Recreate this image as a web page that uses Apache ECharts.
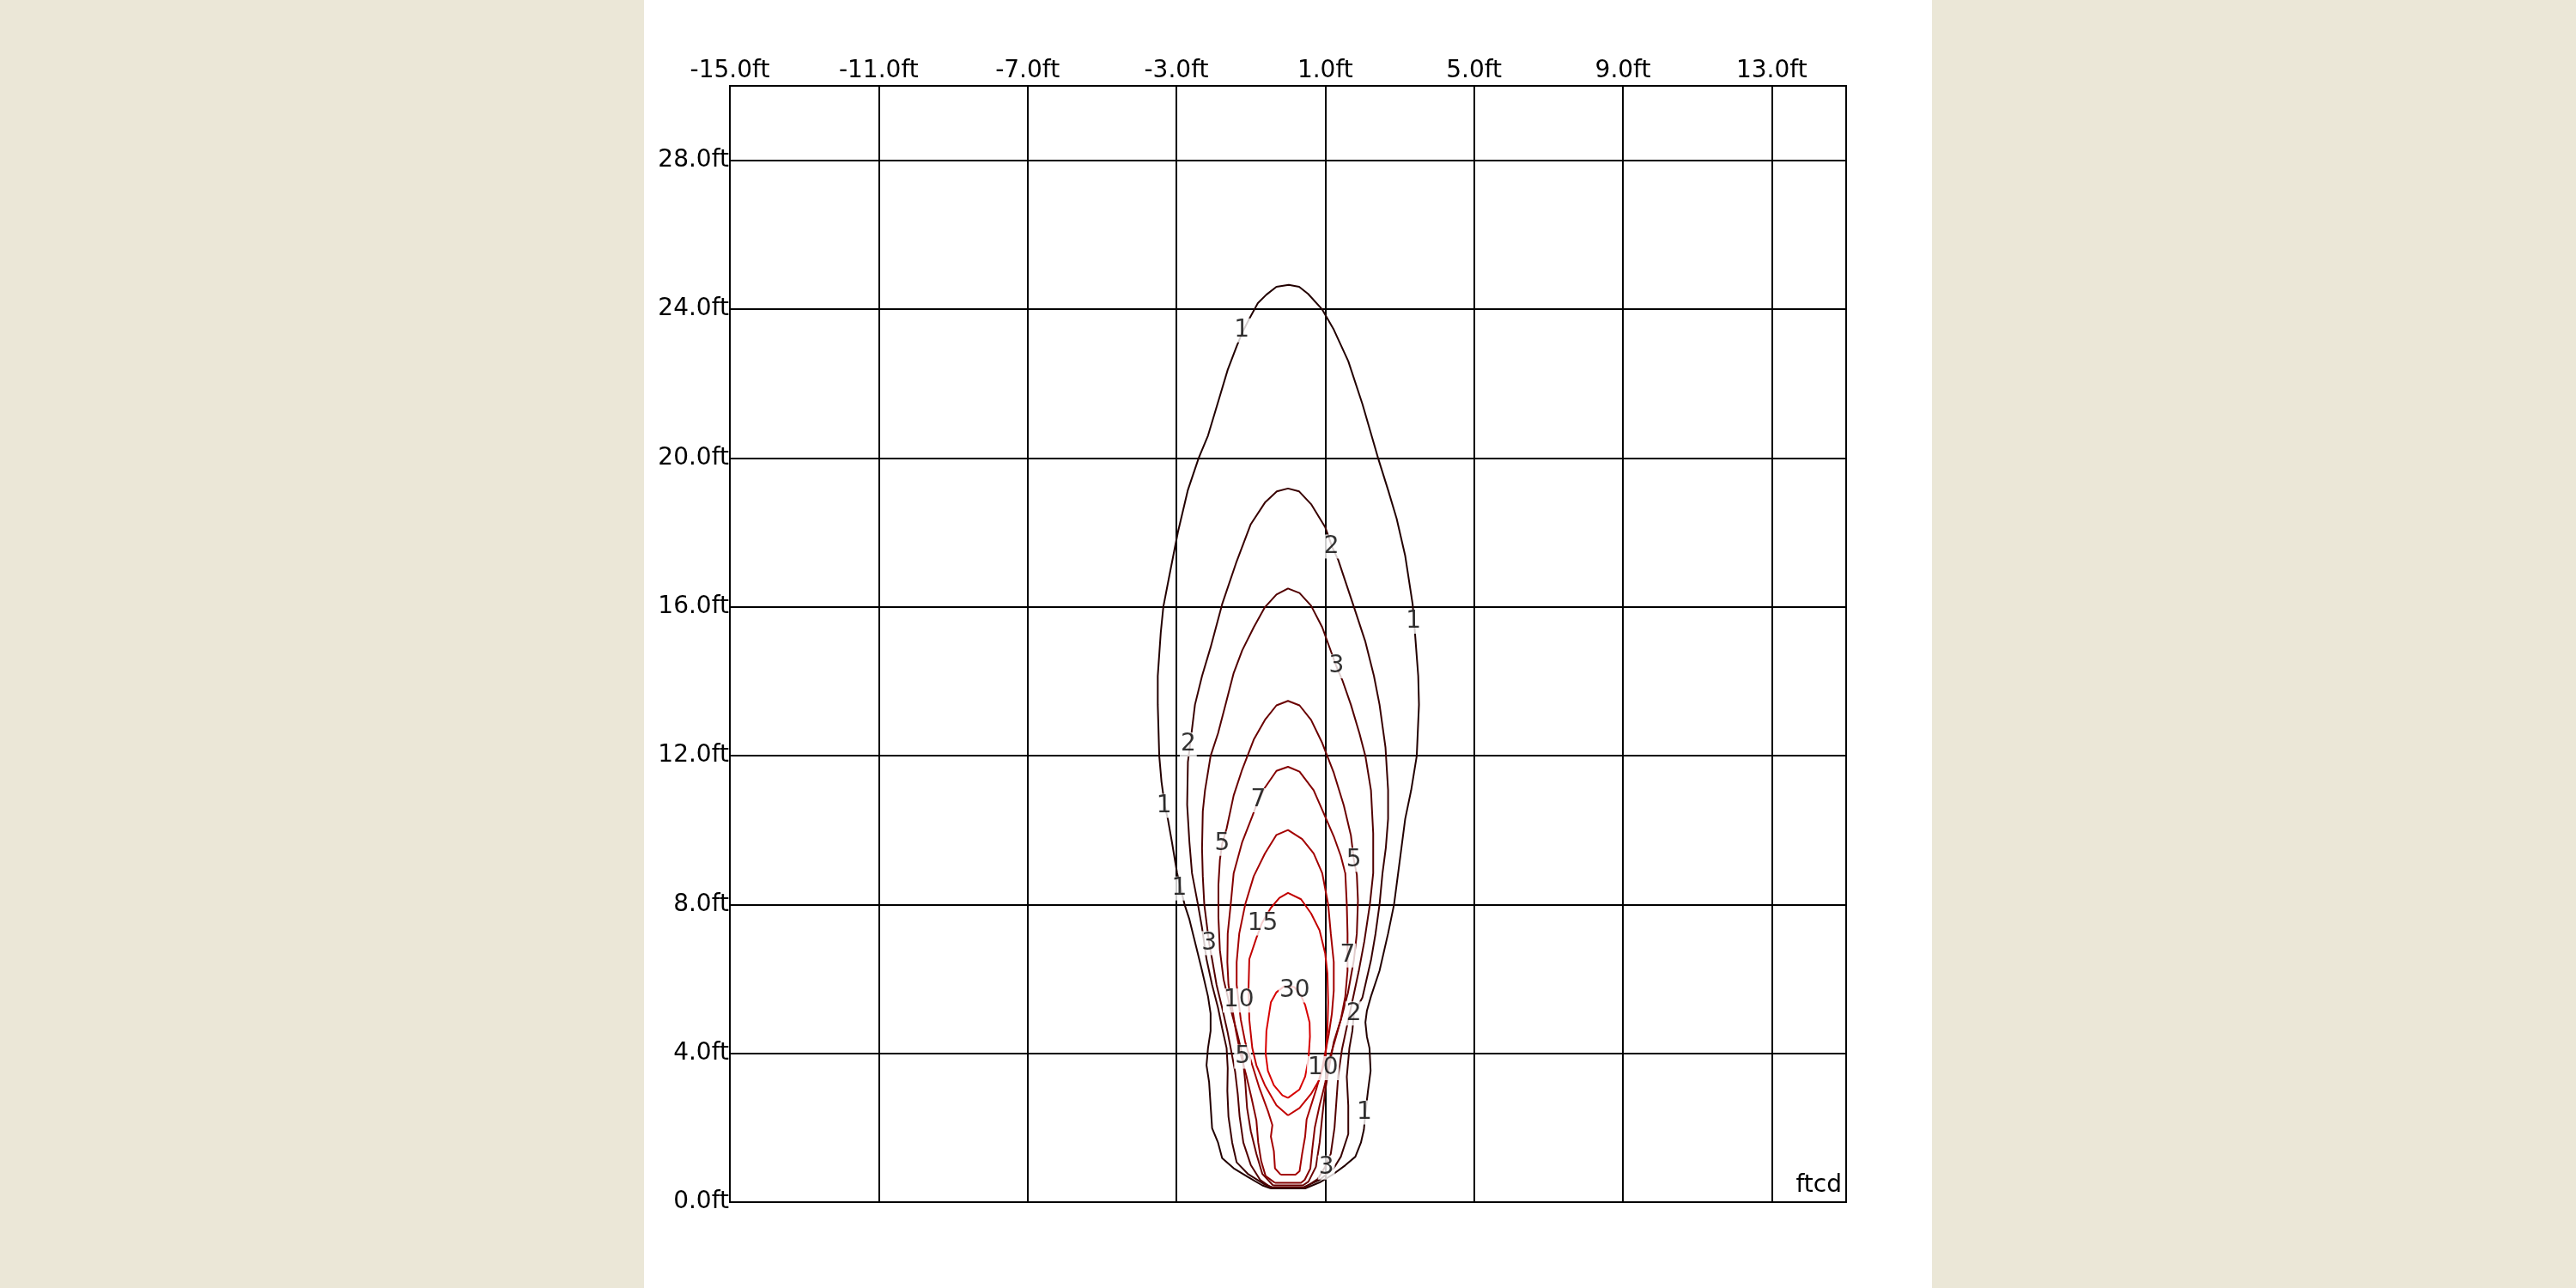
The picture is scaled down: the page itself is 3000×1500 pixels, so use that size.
<!DOCTYPE html>
<html><head><meta charset="utf-8">
<script src="https://cdn.jsdelivr.net/npm/echarts@6.0.0/dist/echarts.min.js"></script>
<style>
html,body{margin:0;padding:0;background:#EBE7D7;}
#panel{position:absolute;left:750px;top:0;width:1500px;height:1500px;background:#fff;}
#c{position:absolute;left:0;top:0;width:3000px;height:1500px;}
</style>
</head><body><div id="panel"></div><div id="c"></div>
<script>
// Axis ranges (ft)
const xRange = [-15, 15];
const yRange = [0, 30];
const tickStep = 4;
const unitLabel = 'ftcd';

// Isoline levels (ftcd) and colours
const levels = [1, 2, 3, 5, 7, 10, 15, 30];
const levelColors = ['#220000', '#380000', '#520000', '#6a0000', '#840000', '#a40000', '#c20000', '#d80000'];

// Isolines: [x ft, y ft]
const iso1 = [[-0.46,0.37],[-0.69,0.45],[-1.08,0.68],[-1.46,0.91],[-1.77,1.18],[-1.88,1.6],[-2.04,1.99],[-2.08,2.6],[-2.12,3.22],[-2.19,3.68],[-2.15,4.14],[-2.08,4.6],[-2.08,5.07],[-2.15,5.53],[-2.31,6.22],[-2.46,6.83],[-2.65,7.6],[-2.78,8.0],[-2.98,8.84],[-3.12,9.68],[-3.23,10.3],[-3.31,10.64],[-3.4,11.3],[-3.46,11.99],[-3.5,13.37],[-3.5,14.14],[-3.42,15.3],[-3.35,16.0],[-3.19,16.83],[-2.96,18.0],[-2.69,19.14],[-2.4,20.0],[-2.15,20.6],[-1.85,21.6],[-1.62,22.37],[-1.38,23.0],[-1.22,23.39],[-1.04,23.74],[-0.81,24.16],[-0.58,24.39],[-0.31,24.6],[0.02,24.65],[0.3,24.6],[0.54,24.41],[0.92,23.99],[1.23,23.45],[1.62,22.6],[2.0,21.45],[2.42,20.0],[2.69,19.14],[2.92,18.37],[3.15,17.37],[3.35,16.07],[3.42,15.2],[3.5,14.14],[3.52,13.37],[3.46,11.99],[3.31,11.07],[3.15,10.3],[2.96,8.84],[2.85,8.0],[2.69,7.22],[2.46,6.22],[2.23,5.53],[2.12,5.14],[2.08,4.83],[2.12,4.45],[2.19,4.14],[2.22,3.53],[2.15,2.99],[2.08,2.41],[2.04,1.95],[1.96,1.6],[1.81,1.22],[1.54,0.99],[1.23,0.76],[0.85,0.53],[0.46,0.37]];
const iso2 = [[-0.42,0.4],[-0.62,0.47],[-1.08,0.76],[-1.38,1.07],[-1.5,1.6],[-1.6,2.3],[-1.63,2.99],[-1.62,3.6],[-1.65,4.14],[-1.77,4.68],[-1.88,5.22],[-2.04,5.84],[-2.19,6.53],[-2.31,7.37],[-2.42,8.0],[-2.58,8.84],[-2.65,9.68],[-2.71,10.68],[-2.69,11.83],[-2.63,12.3],[-2.5,13.37],[-2.31,14.14],[-2.08,14.91],[-1.77,16.07],[-1.38,17.22],[-1.0,18.22],[-0.62,18.8],[-0.3,19.1],[0.0,19.18],[0.3,19.1],[0.62,18.76],[1.0,18.14],[1.19,17.6],[1.35,17.26],[1.77,16.0],[2.08,15.06],[2.31,14.14],[2.46,13.37],[2.62,12.22],[2.69,11.07],[2.69,10.3],[2.63,9.53],[2.54,8.84],[2.46,8.0],[2.35,7.2],[2.23,6.5],[2.0,5.5],[1.77,5.07],[1.73,4.6],[1.65,4.14],[1.58,3.37],[1.62,2.6],[1.62,1.83],[1.42,1.22],[1.23,0.91],[0.85,0.6],[0.42,0.4]];
const iso3 = [[-0.45,0.39],[-0.75,0.6],[-1.0,1.0],[-1.2,1.6],[-1.3,2.3],[-1.35,2.9],[-1.42,3.5],[-1.54,4.14],[-1.63,4.6],[-1.77,5.22],[-1.92,5.84],[-2.04,6.53],[-2.12,6.96],[-2.25,8.0],[-2.29,8.76],[-2.31,9.5],[-2.29,10.5],[-2.23,11.07],[-2.08,11.99],[-1.88,12.6],[-1.68,13.37],[-1.46,14.22],[-1.23,14.83],[-0.92,15.45],[-0.62,15.99],[-0.31,16.33],[0.0,16.49],[0.31,16.37],[0.62,16.03],[0.92,15.45],[1.3,14.4],[1.46,14.03],[1.69,13.37],[1.92,12.6],[2.08,11.99],[2.23,11.07],[2.29,9.91],[2.29,8.84],[2.2,8.0],[2.05,7.0],[1.9,6.2],[1.75,5.5],[1.6,4.8],[1.45,4.1],[1.35,3.4],[1.3,2.7],[1.25,2.0],[1.15,1.3],[1.0,0.95],[0.8,0.62],[0.45,0.39]];
const iso5 = [[-0.4,0.45],[-0.69,0.76],[-0.85,1.3],[-1.0,1.91],[-1.1,2.53],[-1.15,3.24],[-1.22,3.93],[-1.38,4.6],[-1.54,5.18],[-1.73,5.98],[-1.83,6.77],[-1.87,7.65],[-1.87,8.53],[-1.83,9.2],[-1.77,9.63],[-1.65,10.04],[-1.46,10.93],[-1.23,11.63],[-0.92,12.43],[-0.62,12.96],[-0.31,13.35],[0.0,13.47],[0.31,13.35],[0.62,12.96],[0.92,12.34],[1.23,11.54],[1.5,10.66],[1.69,9.86],[1.77,9.2],[1.85,8.8],[1.88,8.1],[1.85,7.22],[1.77,6.5],[1.61,5.62],[1.42,4.9],[1.23,4.3],[1.1,3.6],[1.0,3.0],[0.92,2.3],[0.85,1.6],[0.75,0.95],[0.55,0.55],[0.4,0.45]];
const iso7 = [[-0.35,0.52],[-0.6,0.7],[-0.72,1.1],[-0.8,1.6],[-0.85,2.2],[-0.98,2.8],[-1.12,3.4],[-1.28,4.0],[-1.4,4.6],[-1.5,5.22],[-1.6,5.84],[-1.63,6.45],[-1.62,7.22],[-1.54,8.0],[-1.46,8.84],[-1.23,9.68],[-0.96,10.37],[-0.8,10.8],[-0.62,11.14],[-0.31,11.59],[0.0,11.7],[0.31,11.57],[0.69,11.07],[0.96,10.45],[1.23,9.83],[1.42,9.3],[1.54,8.84],[1.58,8.0],[1.6,7.22],[1.6,6.65],[1.6,6.22],[1.54,5.53],[1.42,4.91],[1.25,4.3],[1.1,3.8],[1.0,3.2],[0.85,2.6],[0.72,2.0],[0.65,1.4],[0.6,0.9],[0.45,0.6],[0.35,0.52]];
const iso10 = [[-0.2,0.74],[-0.35,0.91],[-0.38,1.37],[-0.46,1.76],[-0.42,2.07],[-0.54,2.45],[-0.77,3.07],[-0.96,3.68],[-1.15,4.3],[-1.27,4.91],[-1.33,5.42],[-1.38,5.84],[-1.38,6.45],[-1.31,7.22],[-1.15,8.0],[-0.92,8.76],[-0.62,9.37],[-0.31,9.87],[0.0,10.0],[0.38,9.76],[0.69,9.37],[0.92,8.84],[1.08,8.0],[1.15,7.22],[1.23,6.45],[1.23,5.68],[1.18,5.07],[1.1,4.53],[0.92,3.6],[0.77,3.07],[0.62,2.6],[0.5,2.22],[0.46,1.76],[0.38,1.3],[0.31,0.83],[0.2,0.74]];
const iso15 = [[0.0,2.33],[-0.31,2.6],[-0.62,3.14],[-0.85,3.68],[-0.96,4.14],[-1.04,4.91],[-1.06,5.76],[-1.04,6.53],[-0.85,7.1],[-0.7,7.5],[-0.46,7.91],[-0.23,8.18],[0.0,8.31],[0.35,8.14],[0.62,7.76],[0.85,7.3],[1.0,6.68],[1.06,6.14],[1.08,5.37],[1.06,4.6],[1.0,3.83],[0.85,3.3],[0.62,2.91],[0.31,2.53]];
const iso30 = [[0.0,2.8],[-0.15,2.87],[-0.38,3.14],[-0.54,3.53],[-0.6,3.99],[-0.58,4.6],[-0.46,5.37],[-0.31,5.64],[-0.1,5.8],[0.17,5.78],[0.35,5.55],[0.46,5.3],[0.58,4.83],[0.59,4.45],[0.55,3.83],[0.46,3.37],[0.31,3.03]];

// Isoline labels
const labelValues = [1,1,1,1,1, 2,2,2, 3,3,3, 5,5,5, 7,7, 10,10, 15, 30];
const labelX = [-1.24,3.37,-3.33,-2.92,2.05, 1.17,-2.68,1.77, 1.3,-2.12,1.03, -1.77,1.77,-1.22, -0.8,1.6, -1.32,0.94, -0.68, 0.18];
const labelY = [23.43,15.6,10.65,8.43,2.41, 17.62,12.3,5.07, 14.4,6.96,0.93, 9.63,9.2,3.91, 10.8,6.63, 5.42,3.6, 7.49, 5.69];

const isolines = [iso1, iso2, iso3, iso5, iso7, iso10, iso15, iso30];
const shift = -xRange[0];
const FONT = 'DejaVu Sans';
const FS = 28;

const series = isolines.map((pts, i) => ({
  type: 'line',
  name: String(levels[i]),
  data: pts.concat([pts[0]]).map(p => [p[0] + shift, p[1]]),
  showSymbol: false, symbol: 'none', smooth: false,
  lineStyle: { color: levelColors[i], width: 2 },
  silent: true, z: 3, animation: false
}));
series.push({
  type: 'scatter',
  data: labelX.map((x, i) => [x + shift, labelY[i], labelValues[i]]),
  symbolSize: 1,
  itemStyle: { color: 'rgba(0,0,0,0)' },
  label: {
    show: true, position: 'inside', formatter: p => String(p.value[2]),
    color: '#000', fontSize: FS, fontFamily: FONT,
    backgroundColor: '#fff', padding: [0, 1]
  },
  silent: true, z: 6, animation: false
});

const chart = echarts.init(document.getElementById('c'));
chart.setOption({
  backgroundColor: 'transparent',
  animation: false,
  grid: { left: 850, top: 100, width: 1300, height: 1300, show: true, borderColor: '#000', borderWidth: 2, backgroundColor: 'transparent' },
  xAxis: {
    type: 'value', position: 'top', min: 0, max: xRange[1] - xRange[0], interval: tickStep,
    axisLine: { show: true, lineStyle: { color: '#000', width: 2 } },
    axisTick: { show: false },
    splitLine: { show: true, lineStyle: { color: '#000', width: 2 } },
    axisLabel: { show: true, showMaxLabel: false, margin: 3, color: '#000', fontSize: FS, fontFamily: FONT,
      formatter: v => (v - shift).toFixed(1) + 'ft' }
  },
  yAxis: {
    type: 'value', min: yRange[0], max: yRange[1], interval: tickStep,
    axisLine: { show: true, lineStyle: { color: '#000', width: 2 } },
    axisTick: { show: false },
    splitLine: { show: true, lineStyle: { color: '#000', width: 2 } },
    axisLabel: { show: true, showMaxLabel: false, margin: 1, padding: [4, 0, 0, 0], color: '#000', fontSize: FS, fontFamily: FONT,
      formatter: v => v.toFixed(1) + 'ft' }
  },
  graphic: [{
    type: 'text', x: 2145, y: 1395, z: 10,
    style: { text: unitLabel, fontSize: FS, fontFamily: FONT, fill: '#000', textAlign: 'right', textVerticalAlign: 'bottom' }
  }],
  series: series
});
</script></body></html>
